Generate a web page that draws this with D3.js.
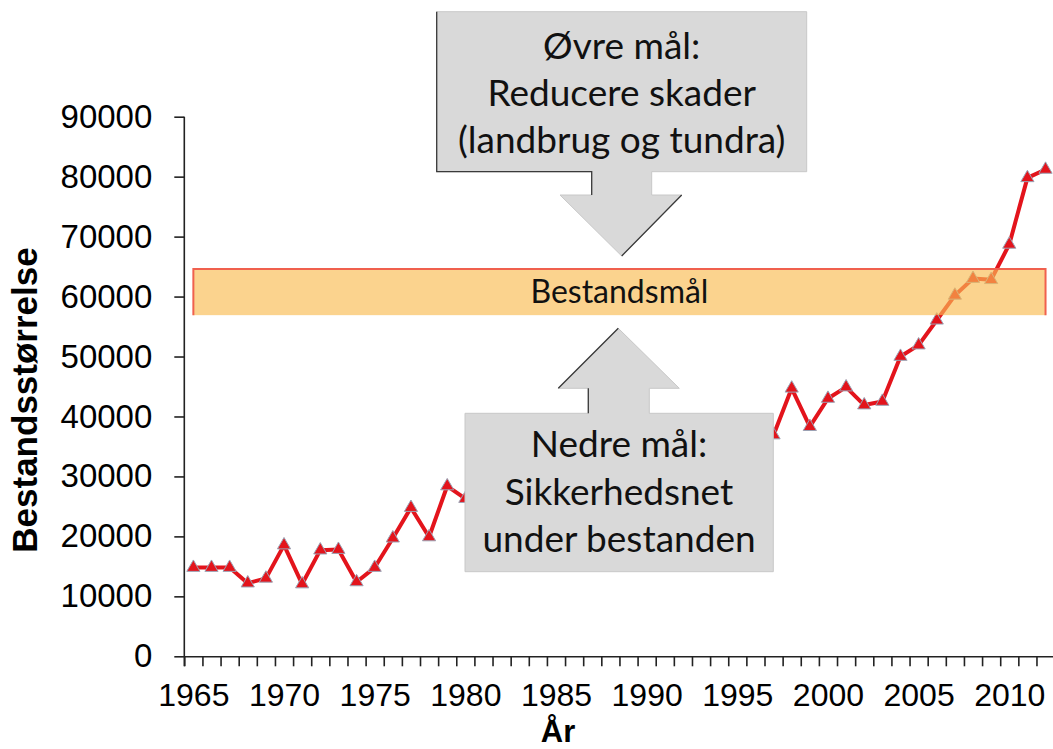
<!DOCTYPE html>
<html><head><meta charset="utf-8">
<script src="https://cdn.jsdelivr.net/npm/d3@7"></script>
<style>body{margin:0;background:#fff}svg{display:block}</style>
</head><body>
<svg id="c" width="1053" height="749"></svg>
<script>
// ---------- data ----------
const years = [1965,1966,1967,1968,1969,1970,1971,1972,1973,1974,1975,1976,1977,1978,1979,1980,
  1981,1982,1983,1984,1985,1986,1987,1988,1989,1990,1991,1992,1993,1994,1995,1996,
  1997,1998,1999,2000,2001,2002,2003,2004,2005,2006,2007,2008,2009,2010,2011,2012];
const population = [14800,14800,14800,12200,13000,18550,12050,17700,17800,12400,14800,19700,24800,19900,28400,26300,
  25500,24500,26500,27500,29500,31000,32000,30000,33000,31500,33500,34500,33000,35500,34000,33500,
  36900,44700,38300,43000,44900,41900,42500,50000,51900,56050,60200,63000,62800,68700,79800,81200];
const xTickLabels = [1965,1970,1975,1980,1985,1990,1995,2000,2005,2010];
const yTicks = [0,10000,20000,30000,40000,50000,60000,70000,80000,90000];
const targetLow = 56900, targetHigh = 64600;
const targetLabel = "Bestandsmål";
const upperText = ["Øvre mål:", "Reducere skader", "(landbrug og tundra)"];
const lowerText = ["Nedre mål:", "Sikkerhedsnet", "under bestanden"];
const yTitle = "Bestandsstørrelse";
const xTitle = "År";

// ---------- scales ----------
const svg = d3.select("#c");
const x = d3.scaleLinear().domain([1964.5, 2012.5]).range([184.3, 1054.6]);
const y = d3.scaleLinear().domain([0, 90000]).range([656.3, 116.7]);

const axisFont = "'Liberation Sans', Arial, sans-serif";
const calloutFont = "Lato, 'Open Sans', sans-serif";

// y axis
const yAx = svg.append("g").attr("transform", `translate(${x(1964.5)},0)`)
  .call(d3.axisLeft(y).tickValues(yTicks).tickFormat(d3.format("d")).tickSize(10).tickSizeOuter(0).tickPadding(22));
yAx.selectAll("text").attr("font-family", axisFont).attr("font-size", 33).attr("fill", "#000");
yAx.selectAll("line,path").attr("stroke", "#222").attr("stroke-width", 1.6);
yAx.select(".domain").attr("d", `M0,${y(90000)}V${y(0) + 10}`);

// x axis: ticks at year boundaries
const boundaries = years.map(d => d - 0.5);
const xAx = svg.append("g").attr("transform", `translate(0,${y(0)})`)
  .call(d3.axisBottom(x).tickValues(boundaries).tickFormat("").tickSize(10).tickSizeOuter(0));
xAx.selectAll("line,path").attr("stroke", "#222").attr("stroke-width", 1.6);
// x labels centred on categories
const xLab = svg.append("g").attr("transform", `translate(0,${y(0)})`)
  .call(d3.axisBottom(x).tickValues(xTickLabels).tickFormat(d3.format("d")).tickSize(0).tickPadding(27));
xLab.select(".domain").remove();
xLab.selectAll("text").attr("font-family", axisFont).attr("font-size", 32).attr("fill", "#000");

// axis titles
svg.append("text").attr("transform", "translate(37,400) rotate(-90)")
  .attr("text-anchor", "middle").attr("font-family", axisFont).attr("font-weight", "bold")
  .attr("font-size", 35).text(yTitle);
svg.append("text").attr("x", 558).attr("y", 742)
  .attr("text-anchor", "middle").attr("font-family", axisFont).attr("font-weight", "bold")
  .attr("font-size", 31).text(xTitle);

// ---------- series ----------
const pts = years.map((yr, i) => ({yr, v: population[i]}));
svg.append("path").datum(pts)
  .attr("fill", "none").attr("stroke", "#E3141C").attr("stroke-width", 4)
  .attr("stroke-linejoin", "round")
  .attr("d", d3.line().x(d => x(d.yr)).y(d => y(d.v)));
svg.append("g").selectAll("path").data(pts).join("path")
  .attr("transform", d => `translate(${x(d.yr)},${y(d.v)})`)
  .attr("d", d3.symbol(d3.symbolTriangle, 75))
  .attr("fill", "#E3141C").attr("stroke", "#9AA3B5").attr("stroke-width", 1);

// ---------- target band ----------
const bx0 = x(years[0]), bx1 = x(years[years.length - 1]);
const by0 = y(targetHigh), by1 = y(targetLow);
svg.append("rect").attr("x", bx0).attr("y", by0).attr("width", bx1 - bx0).attr("height", by1 - by0)
  .attr("fill", "rgb(249,188,84)").attr("fill-opacity", 0.66);
svg.append("path").attr("d", `M${bx0},${by1}V${by0}H${bx1}V${by1}`)
  .attr("fill", "none").attr("stroke", "#F0604E").attr("stroke-width", 2);
svg.append("text").attr("x", (bx0 + bx1) / 2).attr("y", 303).attr("text-anchor", "middle")
  .attr("font-family", calloutFont).attr("font-size", 32).attr("fill", "#111").text(targetLabel);

// ---------- callouts ----------
const grey = "#D9D9D9", edge = "#3a3a3a";
svg.append("path").attr("d", "M436.7,11.7H806.7V171.7H651.7V195H681.7L621.7,256L560,195H591.7V171.7H436.7Z")
  .attr("fill", grey).attr("stroke", "#c8c8c8").attr("stroke-width", 1);
svg.append("path").attr("d", "M436.7,11.7V171.7H591.7V195M681.7,195L621.7,256")
  .attr("fill", "none").attr("stroke", edge).attr("stroke-width", 1.3);
svg.append("g").selectAll("text").data(upperText).join("text")
  .attr("x", 621.7).attr("y", (d, i) => 59 + i * 47).attr("text-anchor", "middle")
  .attr("font-family", calloutFont).attr("font-size", 37).attr("fill", "#111").text(d => d);

svg.append("path").attr("d", "M618.3,328.3L679.3,388.3H649.3V413.3H773.3V571.7H465V413.3H588.3V388.3H558.3Z")
  .attr("fill", grey).attr("stroke", "#c8c8c8").attr("stroke-width", 1);
svg.append("path").attr("d", "M558.3,388.3L618.3,328.3M588.3,388.3V413.3")
  .attr("fill", "none").attr("stroke", edge).attr("stroke-width", 1.3);
svg.append("g").selectAll("text").data(lowerText).join("text")
  .attr("x", 619).attr("y", (d, i) => 457 + i * 47.5).attr("text-anchor", "middle")
  .attr("font-family", calloutFont).attr("font-size", 37).attr("fill", "#111").text(d => d);
</script>
</body></html>
